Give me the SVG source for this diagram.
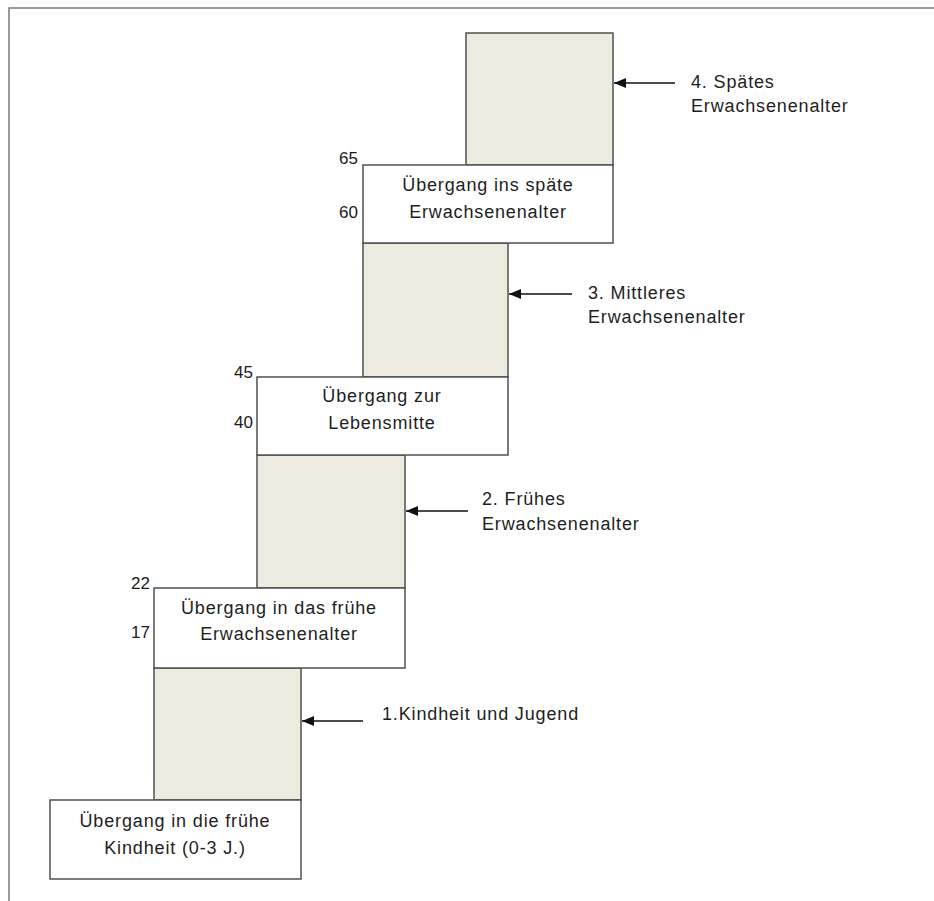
<svg xmlns="http://www.w3.org/2000/svg" width="934" height="901" viewBox="0 0 934 901">
<defs>
<style>
.frame{fill:none;stroke:#7a7a7a;stroke-width:1.5}
.stage{fill:#edeadf;stroke:#505050;stroke-width:1.5}
.trans{fill:#fff;stroke:#505050;stroke-width:1.5}
.t{font-family:"Liberation Sans",Arial,sans-serif;font-size:18px;fill:#1e1e1e;letter-spacing:0.85px}
.c{text-anchor:middle}
.n{font-family:"Liberation Sans",Arial,sans-serif;font-size:17px;fill:#1a1a1a;text-anchor:end}
.arr{stroke:#111;stroke-width:1.5;fill:none;marker-end:url(#ah)}
</style>
<marker id="ah" viewBox="0 0 12 10" refX="12" refY="5" markerWidth="12" markerHeight="10" markerUnits="userSpaceOnUse" orient="auto">
<path d="M0,0 L12,5 L0,10 z" fill="#111"/>
</marker>
</defs>
<rect width="934" height="901" fill="#fff"/>
<path class="frame" d="M9,901 V8 H934"/>
<g id="stage4"><rect class="stage" x="466" y="33" width="147" height="132"/></g>
<g id="stage3"><rect class="stage" x="363" y="243" width="145" height="134"/></g>
<g id="stage2"><rect class="stage" x="257" y="455" width="148" height="133"/></g>
<g id="stage1"><rect class="stage" x="154" y="668" width="147" height="132"/></g>
<g id="trans60">
<rect class="trans" x="363" y="165" width="250" height="78"/>
<text class="t c" x="488" y="191">Übergang ins späte</text>
<text class="t c" x="488" y="218">Erwachsenenalter</text>
</g>
<g id="trans40">
<rect class="trans" x="257" y="377" width="251" height="78"/>
<text class="t c" x="382" y="402">Übergang zur</text>
<text class="t c" x="382" y="429">Lebensmitte</text>
</g>
<g id="trans17">
<rect class="trans" x="154" y="588" width="251" height="80"/>
<text class="t c" x="279" y="614">Übergang in das frühe</text>
<text class="t c" x="279" y="640">Erwachsenenalter</text>
</g>
<g id="trans0">
<rect class="trans" x="50" y="800" width="251" height="79"/>
<text class="t c" x="175" y="827">Übergang in die frühe</text>
<text class="t c" x="175" y="854">Kindheit (0-3 J.)</text>
</g>
<g id="ages">
<text class="n" x="358" y="164">65</text>
<text class="n" x="358" y="218">60</text>
<text class="n" x="253" y="378">45</text>
<text class="n" x="253" y="428">40</text>
<text class="n" x="150" y="589">22</text>
<text class="n" x="150" y="638">17</text>
</g>
<g id="label4">
<text class="t" x="691" y="88">4. Spätes</text>
<text class="t" x="691" y="112">Erwachsenenalter</text>
</g>
<g id="label3">
<text class="t" x="588" y="299">3. Mittleres</text>
<text class="t" x="588" y="323">Erwachsenenalter</text>
</g>
<g id="label2">
<text class="t" x="482" y="505">2. Frühes</text>
<text class="t" x="482" y="530">Erwachsenenalter</text>
</g>
<g id="label1">
<text class="t" x="382" y="720">1.Kindheit und Jugend</text>
</g>
<g id="connectors">
<line class="arr" x1="675" y1="83" x2="614" y2="83"/>
<line class="arr" x1="572" y1="294" x2="509" y2="294"/>
<line class="arr" x1="468" y1="511" x2="406" y2="511"/>
<line class="arr" x1="363" y1="721" x2="302" y2="721"/>
</g>
</svg>
